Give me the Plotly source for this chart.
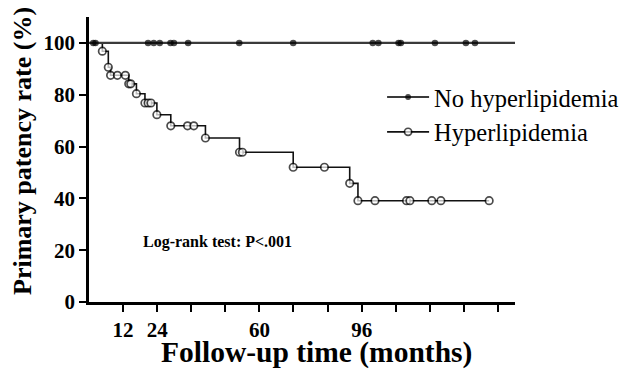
import plotly.graph_objects as go

# ---- data ----
hyper_time = [0, 4.7, 6.8, 7.6, 10.0, 12.8, 14.0, 14.7, 16.7, 19.7, 20.8, 21.8, 23.9,
              28.8, 34.7, 36.9, 41.0, 53.0, 54.0, 71.9, 82.9, 91.8, 94.7, 100.7,
              111.8, 113.0, 120.7, 123.9, 140.9]
hyper_surv = [100, 96.8, 90.6, 87.5, 87.5, 87.5, 84.2, 84.2, 80.4, 76.8, 76.8, 76.8, 72.3,
              68.0, 68.0, 68.0, 63.3, 57.8, 57.8, 52.0, 52.0, 45.8, 39.1, 39.1,
              39.1, 39.1, 39.1, 39.1, 39.1]

nohyper_time = [0, 1.5, 2.3, 20.8, 22.8, 24.9, 28.7, 29.9, 34.9, 52.9, 71.9, 99.9, 101.9,
                109.0, 109.8, 121.8, 132.7, 135.9, 150]
nohyper_surv = [100] * len(nohyper_time)

x_tickvals = [12, 24, 36, 48, 60, 72, 84, 96, 108, 120, 132, 144]
x_ticktext = ["12", "24", "", "", "60", "", "", "96", "", "", "", ""]
y_tickvals = [0, 20, 40, 60, 80, 100]

FONT = "Liberation Serif"

fig = go.Figure()

hyper_sizes = [0] + [7.5] * (len(hyper_time) - 1)
fig.add_trace(go.Scatter(
    x=hyper_time, y=hyper_surv, mode="lines+markers", name="Hyperlipidemia",
    line=dict(shape="hv", color="#111111", width=1.6),
    marker=dict(symbol="circle", size=hyper_sizes, color="white",
                line=dict(color="#000000", width=1.7)),
    cliponaxis=False, legendrank=2,
))

nohyper_sizes = [0] + [6.5] * (len(nohyper_time) - 2) + [0]
fig.add_trace(go.Scatter(
    x=nohyper_time, y=nohyper_surv, mode="lines+markers", name="No hyperlipidemia",
    line=dict(shape="hv", color="#3a3a3a", width=2.2),
    marker=dict(symbol="circle", size=nohyper_sizes, color="black",
                line=dict(color="black", width=0)),
    cliponaxis=False, legendrank=1,
))

axis_common = dict(
    showgrid=False, zeroline=False, showline=True, linecolor="black", linewidth=2.5,
    ticks="outside", ticklen=7, tickwidth=2.2, tickcolor="black", automargin=False,
    tickfont=dict(family=FONT, size=21, color="black", weight="bold"),
)

# page body has an 8px offset, compensate in the margins
fig.update_layout(
    width=628, height=374,
    margin=dict(l=81, r=121, t=9, b=80, autoexpand=False),
    paper_bgcolor="white", plot_bgcolor="white",
    showlegend=True,
    legend=dict(x=0.688, y=0.798, xanchor="left", yanchor="top",
                font=dict(family=FONT, size=24.5, color="black"),
                bgcolor="rgba(0,0,0,0)", itemwidth=42, tracegroupgap=0),
    xaxis=dict(range=[0, 150], tickvals=x_tickvals, ticktext=x_ticktext, **axis_common),
    yaxis=dict(range=[0, 110], tickvals=y_tickvals, **axis_common),
)

W, H = 426, 285
fig.add_annotation(
    x=(217 - 89) / W, y=(302 - 242) / H, xref="paper", yref="paper",
    xanchor="center", yanchor="middle",
    text="Log-rank test: P<.001", showarrow=False,
    font=dict(family=FONT, size=16, color="black", weight="bold"),
)
fig.add_annotation(
    x=(316 - 89) / W, y=(302 - 352) / H, xref="paper", yref="paper",
    xanchor="center", yanchor="middle",
    text="Follow-up time (months)", showarrow=False,
    font=dict(family=FONT, size=29.5, color="black", weight="bold"),
)
fig.add_annotation(
    x=(22 - 89) / W, y=(302 - 151) / H, xref="paper", yref="paper",
    xanchor="center", yanchor="middle",
    text="Primary patency rate (%)", showarrow=False, textangle=-90,
    font=dict(family=FONT, size=26, color="black", weight="bold"),
)

fig.write_html("out.html")
